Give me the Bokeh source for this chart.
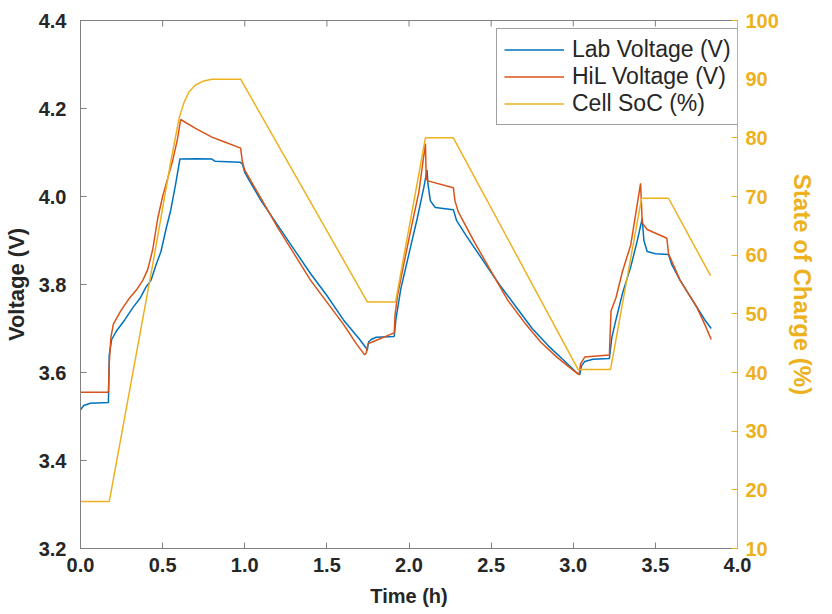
import math
from bokeh.plotting import figure
from bokeh.models import LinearAxis, Range1d, Legend, LegendItem, FixedTicker, NumeralTickFormatter, ColumnDataSource
from bokeh.embed import file_html
from bokeh.resources import INLINE

# ---- data (time in hours) ----
lab_t = [0.0, 0.02, 0.06, 0.17, 0.175, 0.19, 0.22, 0.27, 0.32, 0.365, 0.40, 0.43, 0.46, 0.49, 0.52, 0.55, 0.58, 0.605,
         0.70, 0.80, 0.82, 0.97, 0.985, 1.0, 1.03, 1.10, 1.2, 1.3, 1.4, 1.5, 1.6, 1.7, 1.74, 1.745, 1.755, 1.77, 1.80,
         1.91, 1.92, 1.95, 2.0, 2.05, 2.09, 2.11, 2.115, 2.13, 2.16, 2.27, 2.29, 2.35, 2.45, 2.55, 2.65, 2.75, 2.85,
         2.95, 3.02, 3.04, 3.05, 3.07, 3.12, 3.22, 3.235, 3.26, 3.30, 3.35, 3.39, 3.42, 3.43, 3.45, 3.50, 3.58, 3.60,
         3.65, 3.70, 3.75, 3.80, 3.84]
lab_v = [3.515, 3.525, 3.53, 3.532, 3.64, 3.675, 3.695, 3.72, 3.748, 3.77, 3.795, 3.81, 3.845, 3.875, 3.925, 3.97, 4.03, 4.085,
         4.086, 4.085, 4.080, 4.078, 4.075, 4.055, 4.035, 3.99, 3.935, 3.88, 3.825, 3.775, 3.72, 3.675, 3.655, 3.65, 3.67, 3.675, 3.68,
         3.682, 3.72, 3.79, 3.87, 3.95, 4.02, 4.06, 4.03, 3.99, 3.975, 3.97, 3.945, 3.91, 3.855, 3.80, 3.75, 3.70, 3.66,
         3.625, 3.60, 3.595, 3.615, 3.625, 3.63, 3.632, 3.68, 3.72, 3.78, 3.84, 3.90, 3.95, 3.90, 3.875, 3.87, 3.868, 3.845,
         3.81, 3.78, 3.75, 3.72, 3.70]

hil_t = [0.0, 0.17, 0.175, 0.185, 0.20, 0.245, 0.30, 0.345, 0.38, 0.41, 0.44, 0.47, 0.50, 0.53, 0.56, 0.59, 0.61,
         0.70, 0.80, 0.87, 0.975, 0.985, 1.0, 1.1, 1.2, 1.3, 1.4, 1.5, 1.6, 1.68, 1.73, 1.74, 1.75, 1.78,
         1.91, 1.915, 1.93, 1.97, 2.02, 2.06, 2.10, 2.105, 2.12, 2.27, 2.28, 2.30, 2.4, 2.5, 2.6, 2.7, 2.8, 2.9,
         3.0, 3.035, 3.045, 3.07, 3.22, 3.23, 3.26, 3.30, 3.35, 3.38, 3.41, 3.42, 3.45, 3.57, 3.58, 3.65, 3.70,
         3.75, 3.80, 3.84]
hil_v = [3.555, 3.555, 3.62, 3.68, 3.71, 3.74, 3.77, 3.79, 3.81, 3.835, 3.88, 3.95, 4.0, 4.04, 4.08, 4.13, 4.175,
         4.155, 4.135, 4.125, 4.11, 4.08, 4.06, 3.995, 3.93, 3.87, 3.81, 3.76, 3.71, 3.665, 3.64, 3.645, 3.665, 3.67,
         3.69, 3.73, 3.775, 3.85, 3.94, 4.01, 4.12, 4.04, 4.035, 4.02, 3.99, 3.965, 3.895, 3.83, 3.765, 3.715, 3.67, 3.635,
         3.605, 3.595, 3.62, 3.635, 3.64, 3.74, 3.77, 3.83, 3.89, 3.96, 4.03, 3.94, 3.925, 3.905, 3.87, 3.81, 3.78,
         3.75, 3.71, 3.675]

soc_t = [0.0, 0.175, 0.45, 0.55, 0.60, 0.63, 0.66, 0.70, 0.75, 0.80, 0.975, 1.747, 1.918, 2.10, 2.27, 3.03, 3.227,
         3.416, 3.58, 3.836]
soc_v = [18.0, 18.0, 60.0, 76.0, 83.3, 86.0, 87.8, 89.0, 89.7, 90.0, 90.0, 52.0, 52.0, 80.0, 80.0, 40.5, 40.5,
         69.7, 69.7, 56.5]

x_ticks = [0.0, 0.5, 1.0, 1.5, 2.0, 2.5, 3.0, 3.5, 4.0]
v_ticks = [3.2, 3.4, 3.6, 3.8, 4.0, 4.2, 4.4]
soc_ticks = [10, 20, 30, 40, 50, 60, 70, 80, 90, 100]

BLUE = "#0072BD"
RED = "#D95319"
YEL = "#EDB120"
AX = "#808080"
TXT = "#262626"
FONT = "Liberation Sans"

p = figure(width=830, height=612, x_range=Range1d(x_ticks[0], x_ticks[-1]), y_range=Range1d(v_ticks[0], v_ticks[-1]),
           output_backend="svg", toolbar_location=None,
           min_border_left=80, min_border_right=93, min_border_top=20, min_border_bottom=64)
p.extra_y_ranges = {"soc": Range1d(soc_ticks[0], soc_ticks[-1])}
p.xgrid.visible = False
p.ygrid.visible = False
p.outline_line_color = AX
p.outline_line_width = 1
p.background_fill_color = "white"
p.border_fill_color = "white"

src_lab = ColumnDataSource(dict(t=lab_t, v=lab_v))
src_hil = ColumnDataSource(dict(t=hil_t, v=hil_v))
src_soc = ColumnDataSource(dict(t=soc_t, v=soc_v))

r_lab = p.line("t", "v", source=src_lab, line_color=BLUE, line_width=1.5)
r_hil = p.line("t", "v", source=src_hil, line_color=RED, line_width=1.5)
r_soc = p.line("t", "v", source=src_soc, line_color=YEL, line_width=1.5, y_range_name="soc")

# inward tick marks on the top edge of the box
p.ray(x=x_ticks[1:-1], y=[v_ticks[-1]] * (len(x_ticks) - 2), length=6, length_units="screen",
      angle=-math.pi / 2, line_color=AX, line_width=1)


def style_axis(ax, color, label_color, tick_size, label_size):
    ax.axis_line_color = color
    ax.axis_line_width = 1
    ax.major_tick_line_color = color
    ax.major_tick_in = 6
    ax.major_tick_out = 0
    ax.minor_tick_line_color = None
    ax.major_label_text_font = FONT
    ax.major_label_text_font_style = "bold"
    ax.major_label_text_font_size = tick_size
    ax.major_label_text_color = label_color
    ax.axis_label_text_font = FONT
    ax.axis_label_text_font_style = "bold"
    ax.axis_label_text_font_size = label_size
    ax.axis_label_text_color = label_color


xa = p.xaxis[0]
xa.ticker = FixedTicker(ticks=x_ticks)
xa.formatter = NumeralTickFormatter(format="0.0")
xa.axis_label = "Time (h)"
style_axis(xa, AX, TXT, "20px", "20px")
xa.major_label_standoff = 9
xa.axis_label_standoff = 10

ya = p.yaxis[0]
ya.ticker = FixedTicker(ticks=v_ticks)
ya.formatter = NumeralTickFormatter(format="0.0")
ya.axis_label = "Voltage (V)"
style_axis(ya, AX, TXT, "20px", "22px")
ya.major_label_standoff = 14
ya.axis_label_standoff = 7

ra = LinearAxis(y_range_name="soc", ticker=FixedTicker(ticks=soc_ticks), axis_label="State of Charge (%)")
style_axis(ra, YEL, YEL, "20px", "24px")
ra.major_label_standoff = 8
ra.axis_label_standoff = 7
p.add_layout(ra, "right")

legend = Legend(items=[LegendItem(label="Lab Voltage (V)", renderers=[r_lab]),
                       LegendItem(label="HiL Voltage (V)", renderers=[r_hil]),
                       LegendItem(label="Cell SoC (%)", renderers=[r_soc])],
                location=(416, 423))
legend.label_text_font = FONT
legend.label_text_font_size = "23px"
legend.label_text_color = TXT
legend.glyph_width = 60
legend.glyph_height = 27
legend.label_height = 27
legend.label_standoff = 8
legend.padding = 7
legend.spacing = 0
legend.margin = 0
legend.border_line_color = "#404040"
legend.border_line_width = 1
legend.background_fill_alpha = 1
p.add_layout(legend, "center")

open("out.html", "w").write(file_html(p, INLINE))
